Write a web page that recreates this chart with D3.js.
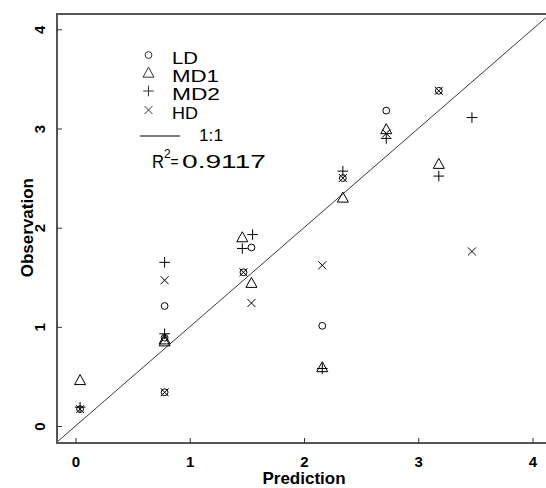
<!DOCTYPE html>
<html>
<head>
<meta charset="utf-8">
<script src="https://cdn.jsdelivr.net/npm/d3@7"></script>
<style>
  html, body { margin: 0; padding: 0; background: #fff; }
  svg { display: block; font-family: "Liberation Sans", Arial, sans-serif; }
</style>
</head>
<body>
<svg id="chart" width="546" height="488"></svg>
<script>
// ---- data ----
const seriesNames = ["LD", "MD1", "MD2", "HD"];
const ldPoints = [
  [0.04, 0.17], [0.78, 1.21], [0.78, 0.34], [0.78, 0.89], [1.47, 1.55],
  [1.54, 1.80], [2.16, 1.01], [2.34, 2.50], [2.72, 3.18], [3.18, 3.38]
];
const md1Points = [
  [0.04, 0.46], [0.78, 0.87], [0.78, 0.85], [1.46, 1.90], [1.54, 1.44],
  [2.16, 0.59], [2.34, 2.30], [2.72, 2.99], [3.18, 2.64]
];
const md2Points = [
  [0.04, 0.19], [0.78, 1.65], [0.78, 0.93], [1.46, 1.79], [1.55, 1.93],
  [2.16, 0.58], [2.34, 2.57], [2.72, 2.90], [3.18, 2.52], [3.47, 3.11]
];
const hdPoints = [
  [0.04, 0.17], [0.78, 1.47], [0.78, 0.34], [1.47, 1.55], [1.54, 1.24],
  [2.16, 1.62], [2.34, 2.50], [2.72, 2.95], [3.18, 3.38], [3.47, 1.76]
];
const xTicks = [0, 1, 2, 3, 4];
const yTicks = [0, 1, 2, 3, 4];
const rSquared = "0.9117";
const xLabel = "Prediction";
const yLabel = "Observation";

// ---- layout ----
const svg = d3.select("#chart");
const x = d3.scaleLinear().domain([0, 4]).range([75.5, 532.5]);
const y = d3.scaleLinear().domain([0, 4]).range([426, 29.3]);
const box = { left: 57, top: 14, bottom: 443, right: x(4.16) };
const axisColor = "#555";

svg.append("defs").append("clipPath").attr("id", "plotclip")
  .append("rect").attr("x", box.left).attr("y", box.top)
  .attr("width", box.right - box.left).attr("height", box.bottom - box.top);

// 1:1 line
svg.append("line")
  .attr("clip-path", "url(#plotclip)")
  .attr("x1", x(-0.5)).attr("y1", y(-0.5))
  .attr("x2", x(4.5)).attr("y2", y(4.5))
  .attr("stroke", "#222").attr("stroke-width", 0.9);

// markers
function drawMarker(g, type, cx, cy, color, sw) {
  if (type === "circle") {
    g.append("circle").attr("cx", cx).attr("cy", cy).attr("r", 3.4)
      .attr("fill", "none").attr("stroke", color).attr("stroke-width", sw);
  } else if (type === "triangle") {
    const h = 10, w = 11;
    g.append("path")
      .attr("d", `M${cx},${cy - h * 0.58} L${cx + w / 2},${cy + h * 0.42} L${cx - w / 2},${cy + h * 0.42} Z`)
      .attr("fill", "none").attr("stroke", color).attr("stroke-width", sw);
  } else if (type === "plus") {
    const s = 5.3;
    g.append("path")
      .attr("d", `M${cx - s},${cy} L${cx + s},${cy} M${cx},${cy - s} L${cx},${cy + s}`)
      .attr("stroke", color).attr("stroke-width", sw);
  } else if (type === "cross") {
    const s = 4;
    g.append("path")
      .attr("d", `M${cx - s},${cy - s} L${cx + s},${cy + s} M${cx - s},${cy + s} L${cx + s},${cy - s}`)
      .attr("stroke", color).attr("stroke-width", sw);
  }
}

const series = [
  { name: seriesNames[0], data: ldPoints, type: "circle" },
  { name: seriesNames[1], data: md1Points, type: "triangle" },
  { name: seriesNames[2], data: md2Points, type: "plus" },
  { name: seriesNames[3], data: hdPoints, type: "cross" }
];

const pts = svg.append("g");
series.forEach(s => {
  s.data.forEach(d => drawMarker(pts, s.type, x(d[0]), y(d[1]), "#000", 1));
});

// box (top, left, bottom; right edge lies off-canvas)
svg.append("path")
  .attr("d", `M${box.right},${box.top} L${box.left},${box.top} L${box.left},${box.bottom} L${box.right},${box.bottom}`)
  .attr("fill", "none").attr("stroke", axisColor).attr("stroke-width", 2);

// x axis
const xAxis = svg.append("g").attr("transform", `translate(0,${box.bottom})`)
  .call(d3.axisBottom(x).tickValues(xTicks).tickFormat(d3.format("d"))
    .tickSizeInner(-5).tickSizeOuter(0).tickPadding(13));
xAxis.select(".domain").remove();
xAxis.selectAll(".tick line").attr("stroke", "#333");
xAxis.selectAll("text").attr("font-size", 15).attr("font-weight", "bold")
  .attr("font-family", "Liberation Sans, Arial, sans-serif").attr("fill", "#000");

// y axis
const yAxis = svg.append("g").attr("transform", `translate(${box.left},0)`)
  .call(d3.axisLeft(y).tickValues(yTicks).tickFormat(d3.format("d"))
    .tickSizeInner(-5).tickSizeOuter(0));
yAxis.select(".domain").remove();
yAxis.selectAll(".tick line").attr("stroke", "#333");
yAxis.selectAll("text")
  .attr("x", null).attr("dy", null)
  .attr("transform", "translate(-12,0) rotate(-90)")
  .attr("text-anchor", "middle")
  .attr("font-size", 15).attr("font-weight", "bold")
  .attr("font-family", "Liberation Sans, Arial, sans-serif").attr("fill", "#000");

// axis titles
svg.append("text").attr("x", x(2)).attr("y", 484)
  .attr("text-anchor", "middle").attr("font-size", 17).attr("font-weight", "bold")
  .text(xLabel);
svg.append("text").attr("transform", `translate(33,${y(2)}) rotate(-90)`)
  .attr("text-anchor", "middle").attr("font-size", 17).attr("font-weight", "bold")
  .text(yLabel);

// legend (text in the reference is horizontally stretched)
const lg = svg.append("g");
const legendY = [55, 73, 91, 110];
const legendW = [26, 47, 48, 26];
const fs = 16.5;
series.forEach((s, i) => {
  drawMarker(lg, s.type, 148.5, legendY[i], "#333", 1);
  lg.append("text").attr("x", 172).attr("y", legendY[i] + 9)
    .attr("font-size", fs).attr("fill", "#000")
    .attr("textLength", legendW[i]).attr("lengthAdjust", "spacingAndGlyphs")
    .text(s.name);
});
lg.append("line").attr("x1", 140).attr("x2", 180).attr("y1", 136).attr("y2", 136)
  .attr("stroke", "#000").attr("stroke-width", 1);
lg.append("text").attr("x", 199).attr("y", 141).attr("font-size", fs)
  .attr("textLength", 24).attr("lengthAdjust", "spacingAndGlyphs").text("1:1");
lg.append("text").attr("x", 152).attr("y", 168).attr("font-size", 18.5)
  .attr("textLength", 12).attr("lengthAdjust", "spacingAndGlyphs").text("R");
lg.append("text").attr("x", 164).attr("y", 158).attr("font-size", 12).text("2");
lg.append("text").attr("x", 170.5).attr("y", 167).attr("font-size", 14)
  .attr("textLength", 8).attr("lengthAdjust", "spacingAndGlyphs").text("=");
lg.append("text").attr("x", 182).attr("y", 168).attr("font-size", 18.5)
  .attr("textLength", 84).attr("lengthAdjust", "spacingAndGlyphs").text(rSquared);
</script>
</body>
</html>
